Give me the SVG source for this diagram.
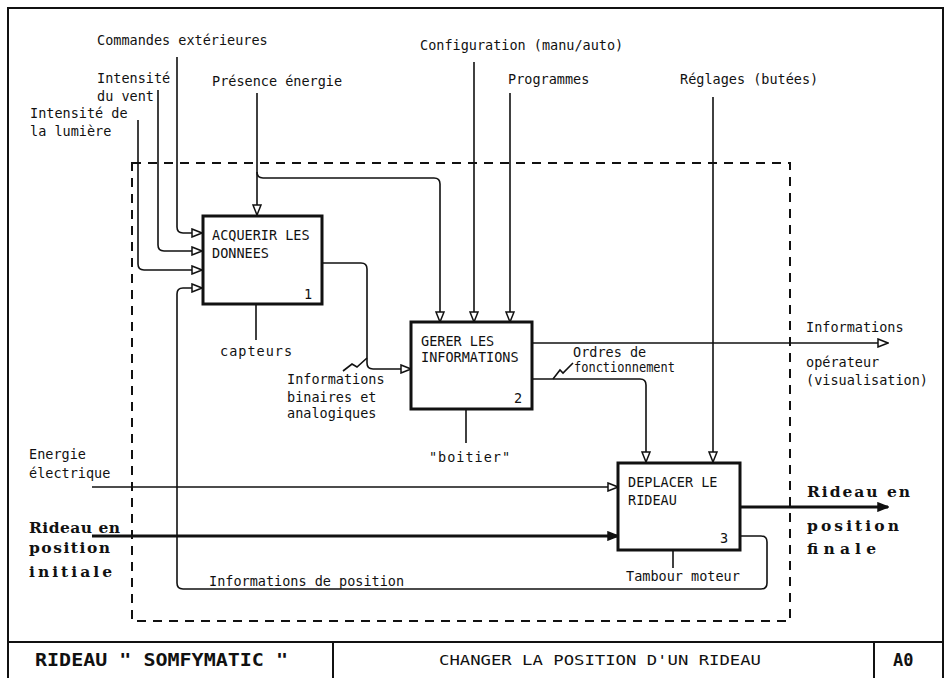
<svg xmlns="http://www.w3.org/2000/svg" width="951" height="678" viewBox="0 0 951 678">
<style>
text{font-family:"DejaVu Sans Mono","Liberation Mono",monospace;font-size:13.5px;fill:#111}
.box{fill:#fff;stroke:#111;stroke-width:3}
.c{fill:none;stroke:#111;stroke-width:1.6}
.thick{fill:none;stroke:#111;stroke-width:3}
.big{font-family:"DejaVu Serif","Liberation Serif",serif;font-weight:bold;font-size:15.5px}
.tb{font-weight:bold;font-size:17px}
</style>
<defs>
<marker id="open" viewBox="0 0 12 10" refX="11" refY="5" markerWidth="12" markerHeight="10" markerUnits="userSpaceOnUse" orient="auto">
<path d="M1,1 L11,5 L1,9 Z" fill="#fff" stroke="#111" stroke-width="1.5"/>
</marker>
<marker id="fill" viewBox="0 0 12 10" refX="11" refY="5" markerWidth="12" markerHeight="10" markerUnits="userSpaceOnUse" orient="auto">
<path d="M1,1 L11,5 L1,9 Z" fill="#111" stroke="#111" stroke-width="1.5"/>
</marker>
</defs>
<rect width="951" height="678" fill="#fff"/>
<g id="frame">
<path d="M8,678 V8 H943 V678" fill="none" stroke="#111" stroke-width="2"/>
<path d="M8,642 H943 M333,642 V678 M874,642 V678" fill="none" stroke="#111" stroke-width="2"/>
<rect x="132" y="163" width="658" height="458" fill="none" stroke="#111" stroke-width="2" stroke-dasharray="9 7"/>
<text class="tb" x="35" y="666" textLength="253" lengthAdjust="spacingAndGlyphs">RIDEAU " SOMFYMATIC "</text>
<text x="600" y="665" text-anchor="middle" textLength="322" lengthAdjust="spacingAndGlyphs">CHANGER LA POSITION D'UN RIDEAU</text>
<text class="tb" x="893" y="666">A0</text>
</g>
<g id="connectors">
<path class="c" d="M177,57 V227 Q177,233 183,233 H202" marker-end="url(#open)"/>
<path class="c" d="M158,90 V245 Q158,251 164,251 H202" marker-end="url(#open)"/>
<path class="c" d="M138,120 V264 Q138,270 144,270 H202" marker-end="url(#open)"/>
<path class="c" d="M257,93 V215" marker-end="url(#open)"/>
<path class="c" d="M257,172 Q257,178 263,178 H434 Q440,178 440,184 V322" marker-end="url(#open)"/>
<path class="c" d="M474,62 V322" marker-end="url(#open)"/>
<path class="c" d="M510,93 V322" marker-end="url(#open)"/>
<path class="c" d="M713,97 V462" marker-end="url(#open)"/>
<path class="c" d="M256,304 V340"/>
<path class="c" d="M322,263 H361 Q367,263 367,269 V363 Q367,369 373,369 H411" marker-end="url(#open)"/>
<path class="c" d="M343,371 L352,364 L357,367 L367,358"/>
<path class="c" d="M466,409 V443"/>
<path class="c" d="M532,343 H888" stroke-width="1.2" marker-end="url(#open)"/>
<path class="c" d="M532,379 H640 Q646,379 646,385 V462" marker-end="url(#open)"/>
<path class="c" d="M553,379 L560,370 L563,373 L573,363"/>
<path class="c" d="M92,487 H618" marker-end="url(#open)"/>
<path class="thick" d="M92,536 H618" marker-end="url(#fill)"/>
<path class="thick" d="M740,507 H888" marker-end="url(#fill)"/>
<path class="c" d="M673,550 V568"/>
<path class="c" d="M740,536 H761 Q767,536 767,542 V583 Q767,589 761,589 H183 Q177,589 177,583 V294 Q177,288 183,288 H202" marker-end="url(#open)"/>
</g>
<g id="labels">
<text x="97" y="45">Commandes extérieures</text>
<text x="97" y="83">Intensité</text>
<text x="97" y="101">du vent</text>
<text x="30" y="118">Intensité de</text>
<text x="30" y="136">la lumière</text>
<text x="212" y="86">Présence énergie</text>
<text x="420" y="50">Configuration (manu/auto)</text>
<text x="508" y="84">Programmes</text>
<text x="680" y="84">Réglages (butées)</text>
<text x="220" y="356" letter-spacing="1">capteurs</text>
<text x="287" y="384" font-size="13">Informations</text>
<text x="287" y="402" font-size="13">binaires et</text>
<text x="287" y="418" font-size="13">analogiques</text>
<text x="470" y="462" text-anchor="middle" letter-spacing="1">"boitier"</text>
<text x="573" y="357" font-size="13">Ordres de</text>
<text x="574" y="372" textLength="101" lengthAdjust="spacingAndGlyphs">fonctionnement</text>
<text x="806" y="332">Informations</text>
<text x="806" y="367">opérateur</text>
<text x="806" y="385">(visualisation)</text>
<text x="626" y="581">Tambour moteur</text>
<text x="209" y="586">Informations de position</text>
<text x="29" y="459">Energie</text>
<text x="29" y="478">électrique</text>
<text class="big" x="29" y="533" textLength="91" lengthAdjust="spacing">Rideau en</text>
<text class="big" x="29" y="553" textLength="81" lengthAdjust="spacing">position</text>
<text class="big" x="29" y="577" textLength="83" lengthAdjust="spacing">initiale</text>
<text class="big" x="807" y="497" textLength="103" lengthAdjust="spacing">Rideau en</text>
<text class="big" x="807" y="531" textLength="92" lengthAdjust="spacing">position</text>
<text class="big" x="807" y="554" textLength="69" lengthAdjust="spacing">finale</text>
</g>
<g id="node1">
<rect class="box" x="203" y="216" width="119" height="88"/>
<text x="212" y="240">ACQUERIR LES</text>
<text x="212" y="258">DONNEES</text>
<text x="304" y="299">1</text>
</g>
<g id="node2">
<rect class="box" x="411" y="322" width="121" height="87"/>
<text x="421" y="346">GERER LES</text>
<text x="421" y="362">INFORMATIONS</text>
<text x="514" y="403">2</text>
</g>
<g id="node3">
<rect class="box" x="618" y="463" width="122" height="87"/>
<text x="628" y="487">DEPLACER LE</text>
<text x="628" y="505">RIDEAU</text>
<text x="720" y="543">3</text>
</g>
</svg>
